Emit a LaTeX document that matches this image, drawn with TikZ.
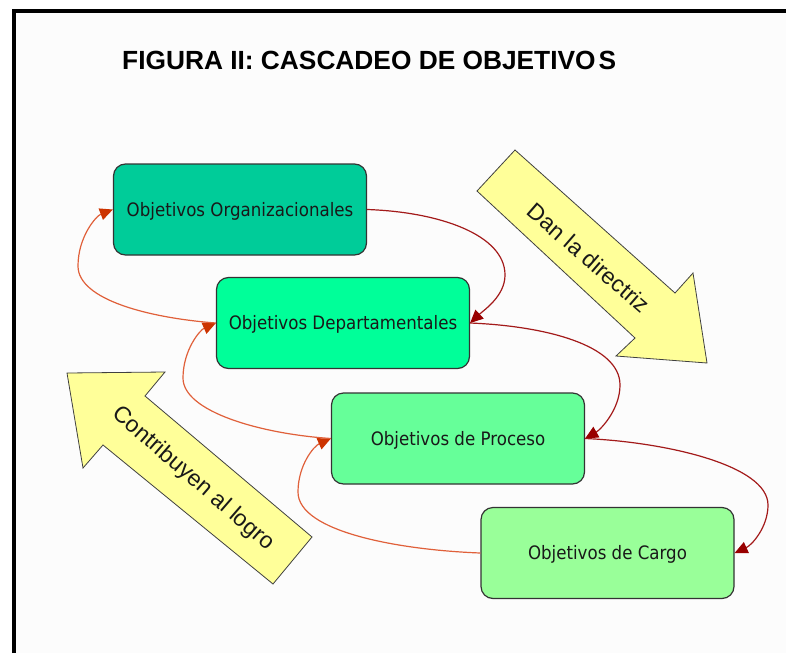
\documentclass[tikz,border=0pt]{standalone}
\usepackage{fontspec}
\setmainfont{Liberation Sans}
\newfontfamily\boxfont[FakeStretch=0.9]{DejaVu Sans}
\usetikzlibrary{arrows.meta}
\definecolor{orgc}{HTML}{00CC99}
\definecolor{depc}{HTML}{00FF99}
\definecolor{proc}{HTML}{66FF99}
\definecolor{carc}{HTML}{99FF99}
\definecolor{bigarrow}{HTML}{FFFF99}
\definecolor{downline}{HTML}{A31A1A}
\definecolor{downtip}{HTML}{990000}
\definecolor{upline}{HTML}{E0603A}
\definecolor{uptip}{HTML}{CC3300}
\definecolor{boxedge}{HTML}{333333}
\tikzset{
  objbox/.style={draw=boxedge, line width=1.2pt, rounded corners=12pt,
    minimum width=253pt, minimum height=91pt, inner sep=0pt,
    text height=13.5pt, text depth=0pt,
    font=\boxfont\fontsize{18.5}{20}\selectfont, text=black!90},
  downconn/.style={draw=downline, line width=1.2pt,
    -{Triangle[length=13pt,width=12pt,color=downtip,fill=downtip]}},
  upconn/.style={draw=upline, line width=1.2pt,
    -{Triangle[length=13pt,width=12pt,color=uptip,fill=uptip]}},
  bigarr/.style={fill=bigarrow, draw=black!75, line width=0.8pt, line join=miter},
  arrtext/.style={font=\fontsize{23}{26}\selectfont, text=black!90, rotate=-41, inner sep=0pt}
}
\begin{document}
\begin{tikzpicture}[x=1pt,y=-1pt]
\useasboundingbox (0,0) rectangle (786,653);
\fill[white] (0,0) rectangle (786,653);
\fill[black!1] (14,11) rectangle (786,653);
\draw[line width=4.5pt] (14,653) -- (14,11) -- (786,11);

\node[anchor=base west, inner sep=0pt, font=\bfseries\fontsize{26.3}{30}\selectfont] (title) at (122,69)
  {FIGURA II: CASCADEO DE OBJETIVO\kern3pt S};

% big arrows
\draw[bigarr] (515,150) -- (675,293) -- (693,273) -- (707,363) -- (616,356) -- (635,338) -- (477,191) -- cycle;
\node[arrtext] (dan) at (589,258) {Dan la directriz};
\draw[bigarr] (67,373) -- (165,372) -- (145,396) -- (312,537) -- (273,584) -- (103,445) -- (83,468) -- cycle;
\node[arrtext] (contrib) at (193,479) {Contribuyen al logro};

% boxes
\node[objbox, fill=orgc] (org) at (240,209.5) {Objetivos Organizacionales};
\node[objbox, fill=depc] (dep) at (343,323) {Objetivos Departamentales};
\node[objbox, fill=proc] (pro) at (458,438.5) {Objetivos de Proceso};
\node[objbox, fill=carc] (car) at (607.5,553) {Objetivos de Cargo};

% downward (right side) connectors
\draw[downconn] (org.east) .. controls (440,212) and (505,235) .. (505,275)
  .. controls (505,296) and (484,310) .. (dep.east);
\draw[downconn] (dep.east) .. controls (545,326) and (620,345) .. (620,385)
  .. controls (620,410) and (600,430) .. (pro.east);
\draw[downconn] (pro.east) .. controls (665,442) and (768,465) .. (768,505)
  .. controls (768,527) and (752,545) .. (car.east);

% upward (left side) connectors
\draw[upconn] (car.west) .. controls (400,550) and (298,532) .. (298,492)
  .. controls (298,465) and (314,446) .. (pro.west);
\draw[upconn] (pro.west) .. controls (262,434) and (183,412) .. (183,378)
  .. controls (183,350) and (200,330) .. (dep.west);
\draw[upconn] (dep.west) .. controls (150,318) and (78,300) .. (78,266)
  .. controls (78,237) and (96,216) .. (org.west);
\end{tikzpicture}
\end{document}
